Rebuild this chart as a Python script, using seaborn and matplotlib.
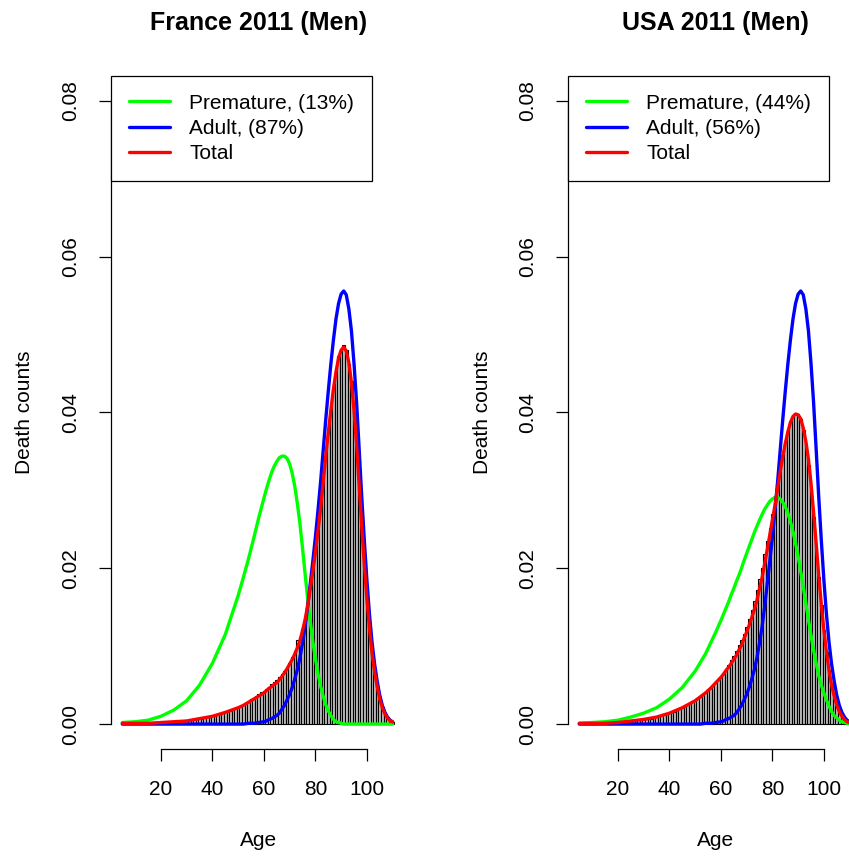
import matplotlib
matplotlib.use("Agg")
import matplotlib.pyplot as plt
import seaborn as sns
from matplotlib.lines import Line2D

# ---------------- data ----------------
curve_ages = [5, 10, 15, 20, 25, 30, 35, 40, 45, 50, 52, 54, 56, 58,
              60, 61, 62, 63, 64, 65, 66, 67, 68, 69,
              70, 71, 72, 73, 74, 75, 76, 77, 78, 79,
              80, 81, 82, 83, 84, 85, 86, 87, 88, 89,
              90, 91, 92, 93, 94, 95, 96, 97, 98, 99,
              100, 101, 102, 103, 104, 105, 106, 107, 108, 109, 110]

fr_premature = [0.0002, 0.0003, 0.0005, 0.0010, 0.0018, 0.0030, 0.0050, 0.0078, 0.0115,
                0.0165, 0.0188, 0.0212, 0.0238, 0.0265,
                0.0290, 0.0302, 0.0313, 0.0323, 0.0331, 0.0337, 0.0342, 0.0344, 0.0344, 0.0341,
                0.0334, 0.0322, 0.0305, 0.0283, 0.0257, 0.0226, 0.0193, 0.0161, 0.0132, 0.0106,
                0.0084, 0.0065, 0.0049, 0.0036, 0.0025, 0.0017, 0.0011, 0.0006, 0.0003, 0.0002,
                0.0001, 0.0, 0.0, 0.0, 0.0, 0.0, 0.0, 0.0, 0.0, 0.0,
                0.0, 0.0, 0.0, 0.0, 0.0, 0.0, 0.0, 0.0, 0.0, 0.0, 0.0]
fr_adult = [0.0, 0.0, 0.0, 0.0, 0.0, 0.0, 0.0, 0.0, 0.0, 0.0, 0.0, 0.0001, 0.0001, 0.0002,
            0.0003, 0.0004, 0.0006, 0.0007, 0.0009, 0.0011, 0.0014, 0.0019, 0.0024, 0.0031,
            0.0038, 0.0047, 0.0058, 0.0070, 0.0085, 0.0104, 0.0125, 0.0151, 0.0180, 0.0209,
            0.0240, 0.0274, 0.0310, 0.0350, 0.0390, 0.0427, 0.0462, 0.0493, 0.0520, 0.0540,
            0.0552, 0.0556, 0.0551, 0.0533, 0.0505, 0.0463, 0.0413, 0.0353, 0.0292, 0.0236,
            0.0185, 0.0141, 0.0105, 0.0077, 0.0055, 0.0037, 0.0024, 0.0015, 0.0009, 0.0005, 0.0003]
fr_total = [0.0001, 0.0001, 0.0001, 0.0002, 0.0003, 0.0004, 0.0007, 0.0010, 0.0015,
            0.0021, 0.0024, 0.0028, 0.0032, 0.0036,
            0.0040, 0.0043, 0.0046, 0.0048, 0.0051, 0.0053, 0.0057, 0.0061, 0.0066, 0.0071,
            0.0077, 0.0083, 0.0090, 0.0098, 0.0107, 0.0120, 0.0134, 0.0152, 0.0174, 0.0196,
            0.0220, 0.0247, 0.0276, 0.0309, 0.0343, 0.0374, 0.0403, 0.0430, 0.0452, 0.0470,
            0.0480, 0.0484, 0.0479, 0.0464, 0.0439, 0.0403, 0.0359, 0.0307, 0.0254, 0.0205,
            0.0161, 0.0123, 0.0091, 0.0067, 0.0048, 0.0032, 0.0021, 0.0013, 0.0008, 0.0004, 0.0003]

usa_premature = [0.0001, 0.0002, 0.0003, 0.0005, 0.0009, 0.0014, 0.0021, 0.0032, 0.0047,
                 0.0068, 0.0079, 0.0090, 0.0104, 0.0118,
                 0.0133, 0.0141, 0.0149, 0.0157, 0.0166, 0.0174, 0.0183, 0.0191, 0.0200, 0.0210,
                 0.0219, 0.0228, 0.0237, 0.0246, 0.0254, 0.0262, 0.0269, 0.0276, 0.0281, 0.0286,
                 0.0289, 0.0291, 0.0291, 0.0289, 0.0285, 0.0279, 0.0271, 0.0260, 0.0247, 0.0232,
                 0.0215, 0.0196, 0.0176, 0.0155, 0.0134, 0.0114, 0.0095, 0.0078, 0.0062, 0.0050,
                 0.0040, 0.0031, 0.0023, 0.0016, 0.0011, 0.0008, 0.0005, 0.0003, 0.0002, 0.0001, 0.0001]
usa_adult = [0.0, 0.0, 0.0, 0.0, 0.0, 0.0, 0.0, 0.0, 0.0, 0.0, 0.0, 0.0001, 0.0001, 0.0002,
             0.0003, 0.0004, 0.0006, 0.0007, 0.0009, 0.0011, 0.0014, 0.0019, 0.0024, 0.0031,
             0.0038, 0.0047, 0.0058, 0.0070, 0.0085, 0.0104, 0.0125, 0.0151, 0.0180, 0.0209,
             0.0240, 0.0274, 0.0310, 0.0350, 0.0390, 0.0427, 0.0462, 0.0493, 0.0520, 0.0540,
             0.0552, 0.0556, 0.0551, 0.0533, 0.0505, 0.0463, 0.0413, 0.0353, 0.0292, 0.0236,
             0.0185, 0.0141, 0.0105, 0.0077, 0.0055, 0.0037, 0.0024, 0.0015, 0.0009, 0.0005, 0.0003]
usa_total = [0.0001, 0.0001, 0.0001, 0.0002, 0.0004, 0.0006, 0.0009, 0.0014, 0.0021,
             0.0030, 0.0035, 0.0040, 0.0046, 0.0053,
             0.0060, 0.0064, 0.0069, 0.0073, 0.0078, 0.0083, 0.0088, 0.0095, 0.0101, 0.0110,
             0.0118, 0.0127, 0.0137, 0.0147, 0.0159, 0.0174, 0.0188, 0.0206, 0.0224, 0.0243,
             0.0262, 0.0281, 0.0302, 0.0323, 0.0343, 0.0360, 0.0375, 0.0387, 0.0395, 0.0398,
             0.0397, 0.0392, 0.0380, 0.0363, 0.0340, 0.0309, 0.0272, 0.0232, 0.0191, 0.0154,
             0.0121, 0.0093, 0.0069, 0.0050, 0.0036, 0.0024, 0.0016, 0.0010, 0.0006, 0.0003, 0.0002]

bar_ages = list(range(5, 111))
fr_bars = [0.0001, 0.0001, 0.0001, 0.0001, 0.0001, 0.0001, 0.0001, 0.0001, 0.0001, 0.0001,
           0.0001, 0.0001, 0.0001, 0.0002, 0.0002, 0.0002, 0.0002, 0.0002, 0.0002, 0.0003,
           0.0003, 0.0003, 0.0003, 0.0004, 0.0004, 0.0004, 0.0005, 0.0005, 0.0006, 0.0006,
           0.0007, 0.0007, 0.0008, 0.0009, 0.0009, 0.0010, 0.0011, 0.0012, 0.0013, 0.0014,
           0.0015, 0.0016, 0.0017, 0.0018, 0.0020, 0.0021, 0.0022, 0.0024, 0.0026, 0.0028,
           0.0032, 0.0034, 0.0036, 0.0038, 0.0041, 0.0043, 0.0045, 0.0048, 0.0051, 0.0054,
           0.0057, 0.0060, 0.0064, 0.0068, 0.0073, 0.0079, 0.0086, 0.0094, 0.0108, 0.0112,
           0.0122, 0.0136, 0.0154, 0.0175, 0.0197, 0.0221, 0.0248, 0.0277, 0.0308, 0.0340,
           0.0374, 0.0406, 0.0432, 0.0456, 0.0472, 0.0482, 0.0487, 0.0480, 0.0462, 0.0440,
           0.0400, 0.0357, 0.0305, 0.0252, 0.0205, 0.0161, 0.0125, 0.0092, 0.0068, 0.0049,
           0.0034, 0.0022, 0.0014, 0.0009, 0.0005, 0.0003]
usa_bars = [0.0001, 0.0001, 0.0001, 0.0001, 0.0001, 0.0001, 0.0001, 0.0001, 0.0001, 0.0001,
            0.0001, 0.0001, 0.0002, 0.0002, 0.0002, 0.0002, 0.0002, 0.0003, 0.0003, 0.0003,
            0.0004, 0.0004, 0.0005, 0.0005, 0.0005, 0.0006, 0.0006, 0.0007, 0.0007, 0.0008,
            0.0009, 0.0010, 0.0011, 0.0012, 0.0013, 0.0014, 0.0015, 0.0016, 0.0018, 0.0019,
            0.0021, 0.0023, 0.0025, 0.0027, 0.0029, 0.0031, 0.0033, 0.0035, 0.0037, 0.0040,
            0.0043, 0.0046, 0.0049, 0.0053, 0.0057, 0.0061, 0.0066, 0.0071, 0.0076, 0.0082,
            0.0088, 0.0094, 0.0101, 0.0108, 0.0116, 0.0125, 0.0135, 0.0146, 0.0158, 0.0172,
            0.0186, 0.0201, 0.0218, 0.0235, 0.0252, 0.0270, 0.0289, 0.0308, 0.0328, 0.0346,
            0.0363, 0.0377, 0.0389, 0.0396, 0.0399, 0.0398, 0.0392, 0.0378, 0.0358, 0.0333,
            0.0302, 0.0266, 0.0227, 0.0189, 0.0153, 0.0121, 0.0093, 0.0069, 0.0050, 0.0035,
            0.0024, 0.0016, 0.0010, 0.0006, 0.0004, 0.0002]

titles = ["France 2011 (Men)", "USA 2011 (Men)"]
prem_labels = ["Premature, (13%)", "Premature, (44%)"]
adult_labels = ["Adult, (87%)", "Adult, (56%)"]

y_ticks = [0.0, 0.02, 0.04, 0.06, 0.08]
y_ticklabels = ["0.00", "0.02", "0.04", "0.06", "0.08"]
x_ticks = [20, 40, 60, 80, 100]

panels = [
    (fr_bars, fr_premature, fr_adult, fr_total),
    (usa_bars, usa_premature, usa_adult, usa_total),
]

# ---------------- plot ----------------
sns.set_theme(style="white")
plt.rcParams["font.family"] = ["Liberation Sans", "DejaVu Sans"]
plt.rcParams["text.color"] = "black"

W, H = 849, 859
fig = plt.figure(figsize=(W / 100, H / 100), dpi=100)
FS = 15
LW = 2.4

for i, (bars, prem, adult, total) in enumerate(panels):
    left_px = 111 + 457 * i
    ax = fig.add_axes([left_px / W, 110 / H, 295 / W, 673 / H])

    # histogram of death counts, one bar per year of age
    sns.histplot(x=bar_ages, weights=bars, discrete=True, stat="count",
                 color="#bebebe", edgecolor="black", linewidth=0.8, alpha=1, ax=ax)
    sns.lineplot(x=curve_ages, y=prem, color="#00ff00", lw=LW, ax=ax)
    sns.lineplot(x=curve_ages, y=adult, color="#0000ff", lw=LW, ax=ax)
    sns.lineplot(x=curve_ages, y=total, color="#ff0000", lw=LW, ax=ax)

    ax.set_xlim(0.6, 115.2)
    ax.set_ylim(-0.0032, 0.0832)
    ax.set_xlabel("")
    ax.set_ylabel("")

    ax.set_xticks(x_ticks)
    ax.set_yticks(y_ticks)
    ax.set_yticklabels(y_ticklabels, rotation=90, va="center")
    ax.tick_params(axis="both", direction="out", length=8.6, width=0.9, color="black",
                   labelsize=FS, labelcolor="black", pad=13.5, bottom=True, left=True)

    for s in ["top", "right"]:
        ax.spines[s].set_visible(False)
    for s in ["left", "bottom"]:
        ax.spines[s].set_color("black")
        ax.spines[s].set_linewidth(0.9)
    ax.spines["left"].set_bounds(0, 0.08)
    ax.spines["bottom"].set_bounds(20, 100)

    handles = [
        Line2D([], [], color="#00ff00", lw=LW),
        Line2D([], [], color="#0000ff", lw=LW),
        Line2D([], [], color="#ff0000", lw=LW),
    ]
    leg = ax.legend(handles, [prem_labels[i], adult_labels[i], "Total"],
                    loc="upper left", bbox_to_anchor=(0, 1), borderaxespad=0,
                    fancybox=False, edgecolor="black", framealpha=1, fontsize=FS,
                    handlelength=2.0, handletextpad=0.9, borderpad=0.85,
                    labelspacing=0.3)
    leg.get_frame().set_linewidth(0.9)

    cx = (left_px + 147.5) / W
    fig.text(cx, 1 - 23 / H, titles[i], ha="center", va="center",
             fontsize=18, fontweight="bold")
    fig.text(cx, 1 - 840 / H, "Age", ha="center", va="center", fontsize=FS)
    fig.text((left_px - 86) / W, 1 - 412 / H, "Death counts", rotation=90,
             ha="center", va="center", fontsize=FS)

fig.savefig("out.png", dpi=100)
